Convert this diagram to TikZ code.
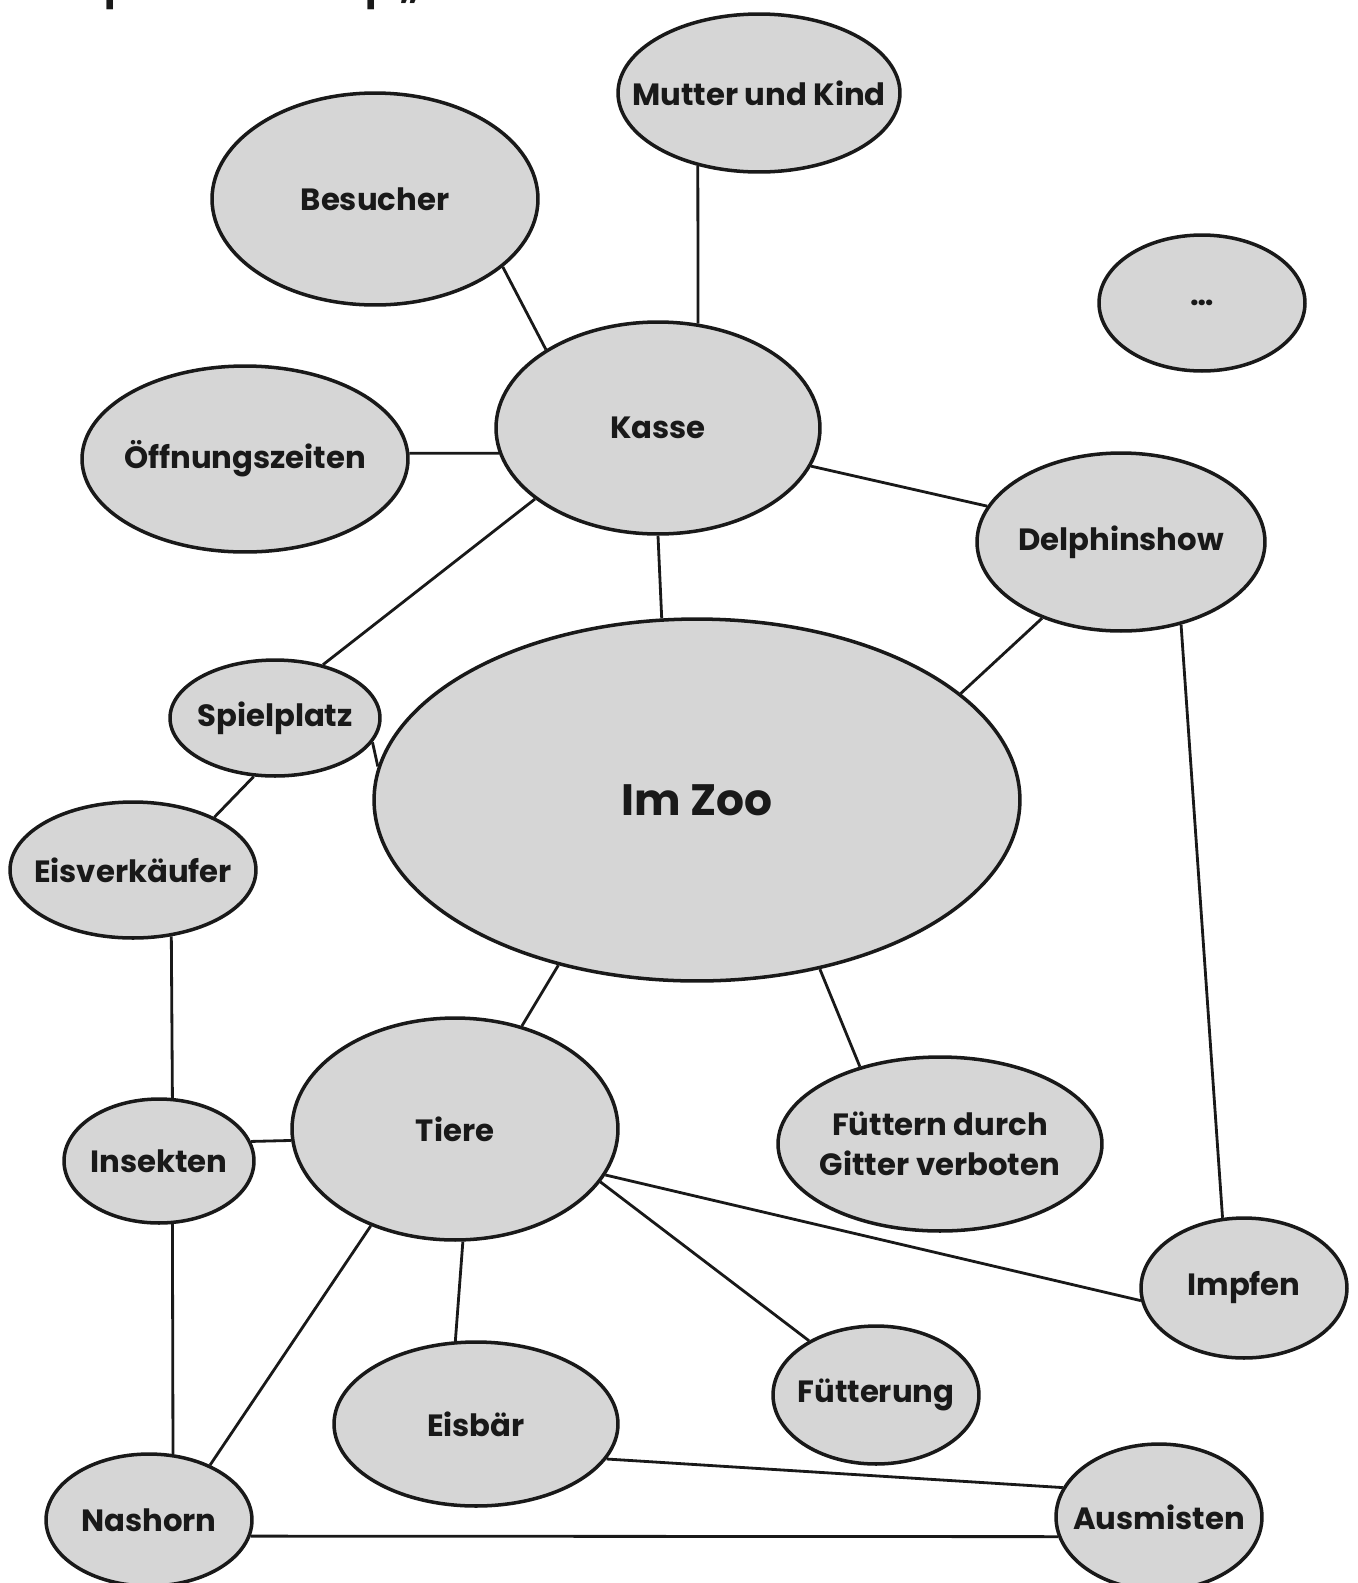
\documentclass[tikz,border=0pt]{standalone}
\usepackage{fontspec}
\usepackage{tikz}
\usetikzlibrary{shapes.geometric}
\newfontfamily\zoofont{Poppins}
\definecolor{zoodark}{RGB}{25,25,25}
\definecolor{zoogray}{RGB}{214,214,214}
\tikzset{
  zootext/.style={inner sep=0pt, align=center, text=zoodark,
    font=\zoofont\bfseries\fontsize{17.5}{23}\selectfont},
  bubble/.style={ellipse, draw=zoodark, fill=zoogray, line width=2pt,
    inner sep=0pt, label={[zootext]center:#1}},
  link/.style={line width=1.6pt, color=zoodark}
}

\begin{document}
\begin{tikzpicture}[x=0.02cm, y=-0.02cm]
  \useasboundingbox (0,0) rectangle (1358,1583);

  % Title (cut off at the top edge)
  \node[anchor=base west, inner sep=0pt, text=zoodark,
    font=\zoofont\bfseries\fontsize{22}{26}\selectfont] (title) at (22,-0.5)
    {Beispiel: Mindmap „Im Zoo“};

  % Centre
  \node[bubble={\fontsize{25}{30}\selectfont Im Zoo},
    minimum width=12.92cm, minimum height=7.24cm] (zoo) at (697,800) {};

  % Upper part
  \node[bubble={Mutter und Kind}, minimum width=5.64cm, minimum height=3.16cm] (mutter) at (759,93) {};
  \node[bubble={Besucher}, minimum width=6.52cm, minimum height=4.24cm] (besucher) at (375,199) {};
  \node[bubble={\dots}, minimum width=4.12cm, minimum height=2.72cm] (dots) at (1202,303) {};
  \node[bubble={Kasse}, minimum width=6.48cm, minimum height=4.24cm] (kasse) at (658,428) {};
  \node[bubble={Öffnungszeiten}, minimum width=6.52cm, minimum height=3.72cm] (oeffnung) at (245,459) {};
  \node[bubble={Delphinshow}, minimum width=5.76cm, minimum height=3.56cm] (delphin) at (1121,542) {};
  \node[bubble={Spielplatz}, minimum width=4.20cm, minimum height=2.32cm] (spielplatz) at (275,718) {};
  \node[bubble={Eisverkäufer}, minimum width=4.92cm, minimum height=2.72cm] (eis) at (133,870) {};

  % Lower part
  \node[bubble={Tiere}, minimum width=6.52cm, minimum height=4.44cm] (tiere) at (455,1129) {};
  \node[bubble={Insekten}, minimum width=3.80cm, minimum height=2.48cm] (insekten) at (159,1161) {};
  \node[bubble={Füttern durch\\Gitter verboten}, minimum width=6.48cm, minimum height=3.48cm] (fuettern) at (940,1144) {};
  \node[bubble={Impfen}, minimum width=4.12cm, minimum height=2.80cm] (impfen) at (1244,1288) {};
  \node[bubble={Eisbär}, minimum width=5.68cm, minimum height=3.28cm] (eisbaer) at (476,1424) {};
  \node[bubble={Fütterung}, minimum width=4.12cm, minimum height=2.76cm] (fuetterung) at (876,1395) {};
  \node[bubble={Nashorn}, minimum width=4.12cm, minimum height=2.64cm] (nashorn) at (149,1520) {};
  \node[bubble={Ausmisten}, minimum width=4.12cm, minimum height=2.92cm] (ausmisten) at (1159,1517) {};

  % Links around Kasse
  \draw[link] (mutter.230) -- (kasse.69);
  \draw[link] (besucher.332) -- (kasse.145);
  \draw[link] (oeffnung.2) -- (kasse.189);
  \draw[link] (kasse.346) -- (delphin.165);
  \draw[link] (kasse.210) -- (spielplatz.48);
  \draw[link] (kasse.270) -- (zoo.101.5);

  % Links around Im Zoo
  \draw[link] (delphin.224) -- (zoo.22);
  \draw[link] (delphin.306) -- (impfen.107);
  \draw[link] (spielplatz.346) -- (zoo.174);
  \draw[link] (spielplatz.250) -- (eis.33);
  \draw[link] (zoo.230) -- (tiere.57);
  \draw[link] (zoo.306) -- (fuettern.136);

  % Links around Tiere
  \draw[link] (eis.300) -- (insekten.78);
  \draw[link] (insekten.12) -- (tiere.184);
  \draw[link] (insekten.282) -- (nashorn.70);
  \draw[link] (tiere.343) -- (impfen.187);
  \draw[link] (tiere.340) -- (fuetterung.141);
  \draw[link] (tiere.274) -- (eisbaer.104);
  \draw[link] (tiere.229) -- (nashorn.42);
  \draw[link] (eisbaer.345) -- (ausmisten.163);
  \draw[link] (nashorn.351) -- (ausmisten.191);
\end{tikzpicture}
\end{document}
